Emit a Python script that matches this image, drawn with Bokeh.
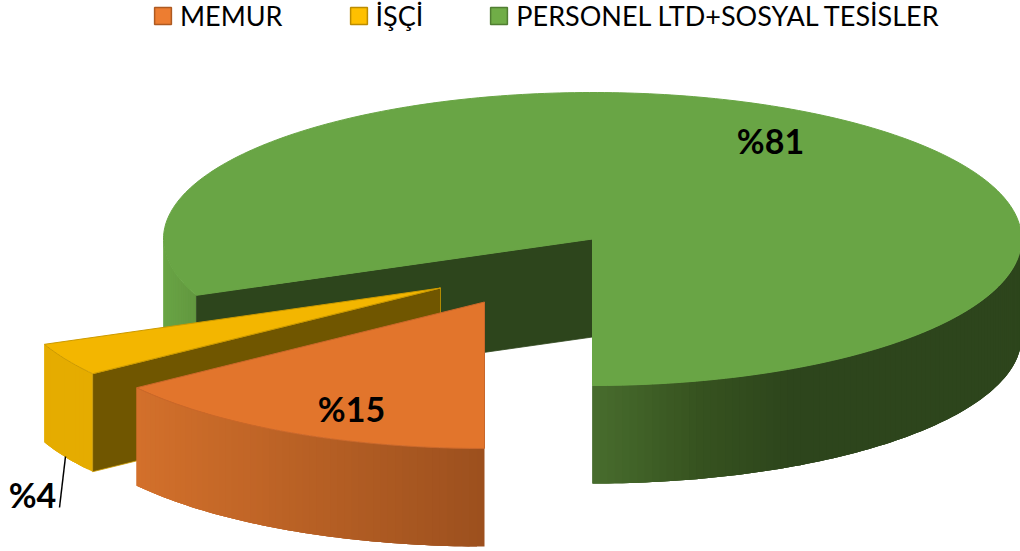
import math
from bokeh.core.properties import value
from bokeh.embed import file_html
from bokeh.models import Legend, LegendItem, Range1d
from bokeh.plotting import figure
from bokeh.resources import INLINE

categories = ["MEMUR", "İŞÇİ", "PERSONEL LTD+SOSYAL TESİSLER"]
shares = [15.05, 3.67, 81.28]

legend_fill = ["#ed7d31", "#ffc000", "#70ad47"]
legend_line = ["#ae5a21", "#bc8c00", "#507e32"]
top_fill = ["#e2752c", "#f3b600", "#69a545"]
top_line = ["#c9672a", "#cc9a00", "#69a545"]
cut_fill = [None, "#705600", "#2d451c"]
wall_stops = [
    [(136, "#d3702b"), (484, "#9c501e")],
    [(43, "#e5ac00"), (93, "#e5ac00")],
    [(163, "#69a545"), (196, "#62973f"), (592, "#486d2d"), (700, "#36521f"), (790, "#2d451c"), (1020, "#2d451c")],
]

CX, CY, RX, RY, DEPTH = 592, 238.5, 429, 146.5, 98
START = 180
offsets = [(-108, 63), (-152, 49), (0, 0)]
label_pos = [(351, 408), (32, 494), (770, 140)]
leader = ([65, 59], [456, 507])


def hex2rgb(c):
    return [int(c[i:i + 2], 16) for i in (1, 3, 5)]


def shade(stops, x):
    if x <= stops[0][0]:
        return stops[0][1]
    for (x0, c0), (x1, c1) in zip(stops, stops[1:]):
        if x <= x1:
            t = (x - x0) / (x1 - x0)
            rgb = [round(a + (b - a) * t) for a, b in zip(hex2rgb(c0), hex2rgb(c1))]
            return "#%02x%02x%02x" % tuple(rgb)
    return stops[-1][1]


def rim(a, ox=0, oy=0):
    r = math.radians(a)
    return CX + ox + RX * math.sin(r), CY + oy - RY * math.cos(r)


def arc(a0, a1, ox, oy, step=1.0):
    n = max(2, int(abs(a1 - a0) / step) + 1)
    return [rim(a0 + (a1 - a0) * i / (n - 1), ox, oy) for i in range(n)]


p = figure(width=1020, height=551, output_backend="svg", toolbar_location=None,
           x_range=Range1d(0, 1020), y_range=Range1d(551, 0), min_border=0)
p.axis.visible = False
p.grid.visible = False
p.outline_line_color = None

total = sum(shares)
spans = []
a = START
for s in shares:
    spans.append((a, a + 360 * s / total))
    a += 360 * s / total

for i in [2, 1, 0]:
    a0, a1 = spans[i]
    ox, oy = offsets[i]
    apex = (CX + ox, CY + oy)

    ranges = []
    for k in (0, 360):
        lo, hi = max(a0, 90 + k), min(a1, 270 + k)
        if lo < hi:
            ranges.append((lo, hi))
    xs, ys, cols = [], [], []
    for lo, hi in ranges:
        pts = arc(lo, hi, ox, oy)
        for j in range(len(pts) - 1):
            run = pts[j:j + 4]
            xs.append([q[0] for q in run] + [q[0] for q in reversed(run)])
            ys.append([q[1] for q in run] + [q[1] + DEPTH for q in reversed(run)])
            cols.append(shade(wall_stops[i], (pts[j][0] + pts[j + 1][0]) / 2))
    if xs:
        p.patches(xs, ys, fill_color=cols, line_color=None)

    if cut_fill[i]:
        ex, ey = rim(a0, ox, oy)
        p.patch([apex[0], ex, ex, apex[0]], [apex[1], ey, ey + DEPTH, apex[1] + DEPTH],
                fill_color=cut_fill[i], line_color=top_line[i] if i == 1 else cut_fill[i], line_width=0.8)

    pts = arc(a0, a1, ox, oy)
    p.patch([apex[0]] + [q[0] for q in pts], [apex[1]] + [q[1] for q in pts],
            fill_color=top_fill[i], line_color=top_line[i], line_width=1)

p.line(leader[0], leader[1], line_color="black", line_width=1.5)

for share, (lx, ly) in zip(shares, label_pos):
    p.text([lx], [ly], text=[f"%{round(share)}"], text_align="center", text_baseline="middle",
           text_font=value("Lato"), text_font_style="bold", text_font_size="34px", text_color="black")

items = []
for name, fc, lc in zip(categories, legend_fill, legend_line):
    r = p.quad(left=[-40], right=[-30], top=[-40], bottom=[-30], fill_color=fc, line_color=lc, line_width=1.5)
    items.append(LegendItem(label=value(name), renderers=[r]))

legend = Legend(items=items, orientation="horizontal", location=(152, 519),
                glyph_width=21, glyph_height=21, label_standoff=7, spacing=65, padding=0, margin=0,
                border_line_color=None, background_fill_alpha=0,
                label_text_font="Lato", label_text_font_size="27px", label_text_color="black",
                label_height=30)
p.add_layout(legend, "center")

open("out.html", "w").write(file_html(p, INLINE))
